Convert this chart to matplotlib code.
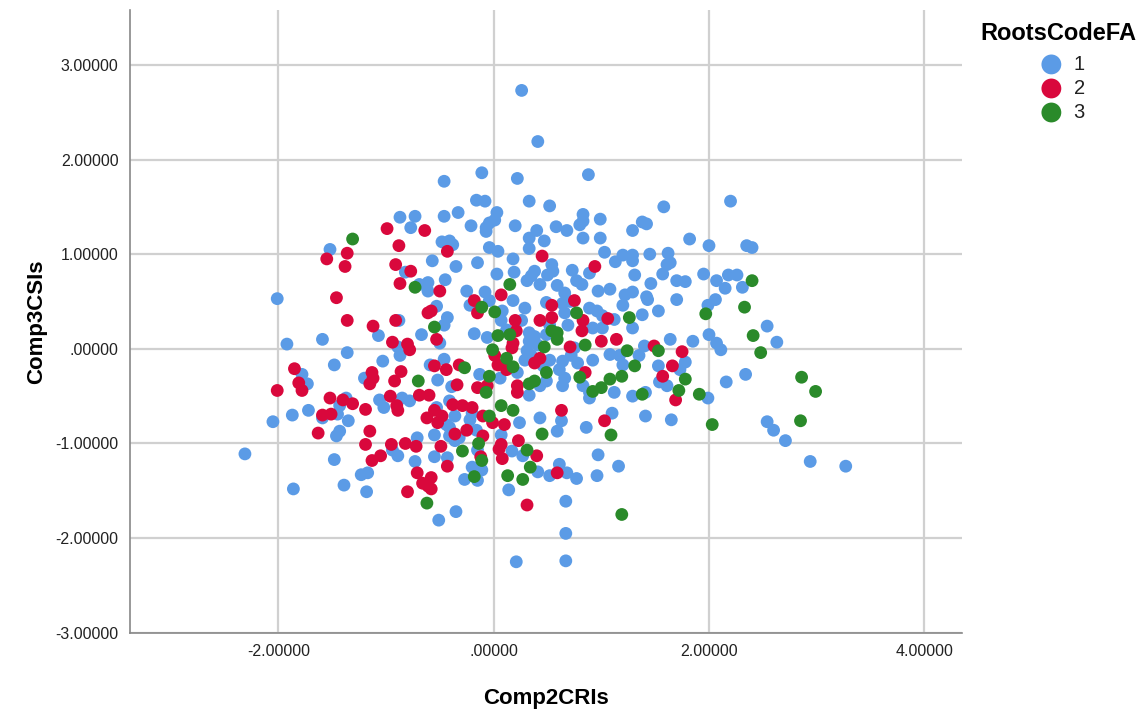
import numpy as np
import matplotlib
matplotlib.use("Agg")
from matplotlib import pyplot as plt
from matplotlib.ticker import FuncFormatter

plt.rcParams['font.family'] = ['Liberation Sans', 'DejaVu Sans']

# RootsCodeFA = 1
x1 = [1.43, 1.70, 1.99, 2.06, 1.53, 1.38, 1.29, 1.64, 1.85, 2.00, 2.07, 2.11, 1.40, 1.35, 1.53,
      1.78, 1.73, 1.54, 1.61, 1.41, 1.29, 1.99, 2.16, 2.34, 2.54, 2.63, 1.41, 1.65, 2.54, 2.60,
      2.71, 2.94, 3.27, 2.20, 1.58, 1.38, 1.42, 1.29, 1.82, 2.00, 2.35, 2.40, 1.45, 1.62, 1.29,
      1.29, 1.61, 1.64, 1.57, 1.31, 1.95, 1.70, 1.78, 1.46, 2.07, 2.18, 2.26, 2.15, 2.31, 1.29,
      1.42, -0.46, -0.11, 0.22, 0.88, -0.16, -0.08, 0.33, 0.52, -0.46, -0.33, 0.03, 0.01, -0.04,
      -0.07, -0.21, -0.07, 0.20, 0.83, 0.83, 0.80, 0.99, 0.40, 0.33, 0.47, 0.58, 0.68, 0.83,
      0.99, -0.48, -0.41, -0.38, -0.04, 0.04, 0.33, 1.03, -0.57, -0.35, -0.15, 0.18, 0.54, 0.73,
      1.13, 1.20, 0.03, 0.19, 0.38, 0.35, 0.31, 0.50, 0.55, -0.45, -0.25, -0.08, 0.43, 0.77,
      0.82, 0.59, 0.66, 0.97, 1.08, 1.22, 0.89, -0.87, -0.73, -0.77, -1.52, -2.01, -0.82, -0.69,
      -0.61, -0.61, -1.92, -1.59, -1.36, -1.48, -1.03, -1.07, -0.88, -0.67, -0.89, -0.87, -1.20,
      -1.78, -1.73, -2.05, -1.87, -1.72, -1.37, -1.43, -1.06, -1.02, -0.85, -0.78, -1.45, -1.35,
      -1.59, -2.31, -1.86, -1.48, -1.39, -1.18, -1.23, -1.17, -1.46, -1.43, -0.89, -0.94, -0.73,
      -0.71, -0.55, -0.41, -0.32, -0.36, -0.55, -0.43, -0.27, -0.15, -0.20, -0.11, -0.15, 0.07,
      0.17, 0.27, 0.41, 0.52, 0.61, 0.68, 0.77, 0.96, 0.97, 1.16, 0.14, 0.67, -0.51, -0.35,
      0.67, 0.21, 0.67, 0.86, -0.53, -0.43, -0.46, -0.22, -0.04, 0.18, 0.29, 0.08, -0.18, -0.06,
      0.07, 0.12, 0.26, 0.33, 0.38, 0.33, 0.41, 0.31, 0.35, 0.29, 0.49, 0.52, 0.66, 0.69, 0.49,
      0.64, 0.71, 0.89, 0.96, 1.01, 0.92, 1.01, 1.20, 1.12, 0.75, 0.72, 0.78, 0.64, 0.61, 0.66,
      0.52, 0.46, 0.92, 1.08, 1.17, -0.50, -0.46, -0.59, -0.52, -0.39, -0.13, 0.06, 0.22, 0.33,
      0.49, 0.43, 0.64, 0.83, 0.89, 0.89, 1.12, 1.20, -0.53, -0.41, -0.36, -0.44, -0.22, -0.20,
      -0.16, 0.24, 0.43, 0.63, 0.59, 1.10, -0.41, 0.26, 0.41]
y1 = [0.52, 0.52, 0.46, 0.52, 0.40, 0.36, 0.22, 0.10, 0.08, 0.15, 0.06, -0.01, 0.03, -0.07, -0.18,
      -0.14, -0.22, -0.35, -0.39, -0.46, -0.50, -0.52, -0.35, -0.27, 0.24, 0.07, -0.71, -0.75, -0.77, -0.86,
      -0.97, -1.19, -1.24, 1.56, 1.50, 1.34, 1.32, 1.25, 1.16, 1.09, 1.09, 1.07, 1.00, 1.01, 0.99,
      0.93, 0.89, 0.91, 0.79, 0.78, 0.79, 0.72, 0.71, 0.69, 0.72, 0.78, 0.78, 0.64, 0.65, 0.60,
      0.55, 1.77, 1.86, 1.80, 1.84, 1.57, 1.56, 1.56, 1.51, 1.40, 1.44, 1.44, 1.36, 1.33,
      1.28, 1.30, 1.24, 1.30, 1.42, 1.35, 1.31, 1.37, 1.25, 1.17, 1.14, 1.29, 1.25, 1.17,
      1.17, 1.13, 1.14, 1.10, 1.07, 1.03, 1.06, 1.02, 0.93, 0.87, 0.91, 0.95, 0.89, 0.83,
      0.92, 0.99, 0.79, 0.81, 0.82, 0.77, 0.72, 0.78, 0.82, 0.73, 0.61, 0.60, 0.68, 0.72,
      0.68, 0.67, 0.59, 0.61, 0.63, 0.57, 0.80, 1.39, 1.40, 1.28, 1.05, 0.53, 0.81, 0.68,
      0.70, 0.61, 0.05, 0.10, -0.04, -0.17, -0.13, 0.14, 0.30, 0.15, 0.02, -0.07, -0.31,
      -0.27, -0.37, -0.77, -0.70, -0.65, -0.52, -0.60, -0.54, -0.62, -0.52, -0.55, -0.69, -0.76,
      -0.73, -1.11, -1.48, -1.17, -1.44, -1.51, -1.33, -1.31, -0.92, -0.87, -1.13, -1.07, -1.19,
      -0.94, -0.91, -0.92, -0.94, -0.97, -1.14, -1.15, -1.38, -1.39, -1.25, -1.28, -1.07, -0.91,
      -1.08, -1.13, -1.30, -1.34, -1.22, -1.31, -1.37, -1.34, -1.12, -1.24, -1.49, -1.61, -1.81, -1.72,
      -1.95, -2.25, -2.24, -0.83, 0.45, 0.33, 0.25, 0.46, 0.51, 0.51, 0.43, 0.40, 0.16, 0.12,
      0.30, 0.20, 0.30, 0.17, 0.13, 0.08, 0.04, -0.02, -0.07, -0.12, 0.15, 0.25, 0.38, 0.25, 0.49,
      0.48, 0.50, 0.43, 0.40, 0.35, 0.22, 0.22, 0.46, 0.31, 0.01, -0.07, -0.15, -0.13, -0.22, -0.31,
      -0.12, -0.18, -0.12, -0.06, -0.07, 0.06, -0.11, -0.17, -0.33, -0.40, -0.27, -0.31, -0.25, -0.49,
      -0.34, -0.39, -0.39, -0.39, -0.46, -0.52, -0.46, -0.17, -0.62, -0.55, -0.71, -0.80, -0.75, -0.68,
      -0.86, -0.78, -0.73, -0.76, -0.87, -0.68, -0.83, 2.73, 2.19]

# RootsCodeFA = 2
x2 = [1.49, 1.75, 1.66, 1.57, 1.69, -0.43, 0.45, 0.94, -0.50, 0.07, 0.75, -0.18, -0.99, -0.64,
      -0.88, -1.36, -1.55, -1.38, -0.91, -0.77, -0.87, -1.46, -1.36, -1.12, -0.91, -0.94, -0.80,
      -0.78, -0.61, -1.85, -1.81, -1.78, -2.01, -1.13, -1.12, -1.15, -0.86, -0.92, -1.52, -1.40,
      -1.31, -1.19, -0.96, -0.90, -0.89, -1.59, -1.51, -0.69, -0.60, -0.62, -1.63, -1.15, -1.19,
      -1.13, -1.05, -0.95, -0.82, -0.72, -0.71, -0.66, -0.61, -0.80, -0.49, -0.43, -0.58, -0.58,
      0.07, 0.05, 0.08, -0.10, -0.36, 0.23, 0.40, 0.59, 0.31, -0.12, -0.58, -0.53, -0.15, 0.20,
      0.21, 0.18, 0.17, 0.43, 0.54, 0.54, 0.83, 0.82, 1.06, 1.00, 1.14, 0.71, 0.43, 0.38, 0.85,
      -0.32, -0.55, -0.44, -0.34, -0.15, -0.06, 0.22, 0.22, 0.01, 0.04, 0.12, -0.38, -0.29, -0.20,
      -0.55, -0.48, -0.52, -0.10, -0.01, 0.10, 0.63, 1.03, -0.25]
y2 = [0.03, -0.03, -0.18, -0.29, -0.54, 1.03, 0.98, 0.87, 0.61, 0.57, 0.51, 0.51, 1.27, 1.25,
      1.09, 1.01, 0.95, 0.87, 0.89, 0.82, 0.69, 0.54, 0.30, 0.24, 0.30, 0.07, 0.05,
      -0.01, 0.38, -0.21, -0.36, -0.44, -0.44, -0.25, -0.31, -0.37, -0.24, -0.34, -0.52, -0.54,
      -0.58, -0.64, -0.50, -0.60, -0.65, -0.70, -0.69, -0.49, -0.49, -0.73, -0.89, -0.87, -1.01,
      -1.18, -1.13, -1.01, -1.00, -1.03, -1.31, -1.42, -1.45, -1.51, -1.03, -1.24, -1.36, -1.48,
      -1.01, -1.06, -1.16, -0.92, -0.90, -0.97, -1.13, -1.31, -1.65, -1.14, 0.40, 0.10, 0.38, 0.30,
      0.19, 0.06, 0.01, 0.30, 0.33, 0.46, 0.30, 0.19, 0.32, 0.08, 0.10, 0.02, -0.10, -0.15, -0.25,
      -0.17, -0.18, -0.22, -0.38, -0.41, -0.39, -0.39, -0.46, -0.07, -0.17, -0.22, -0.59, -0.60, -0.62,
      -0.65, -0.71, -0.78, -0.71, -0.78, -0.80, -0.65, -0.76, -0.86]

# RootsCodeFA = 3
x3 = [2.33, 1.97, 2.41, 2.48, 2.86, 2.99, 2.85, 2.03, 1.53, 1.78, 1.72, 1.91, 1.38, 1.31, 1.26,
      2.40, -1.31, -0.73, 0.15, -0.70, -0.62, -0.14, -0.29, -0.11, -0.18, 0.13, 0.27, 0.31, 0.34,
      0.45, 1.09, 1.19, -0.11, 0.01, -0.55, 0.04, 0.15, -0.01, 0.12, 0.18, 0.54, 0.59, 0.59, 0.77,
      0.85, 0.47, 1.24, -0.27, -0.04, 0.49, 0.33, 0.38, 0.80, 1.08, 1.19, 1.00, 0.92, -0.07, 0.07,
      0.18, -0.04]
y3 = [0.44, 0.37, 0.14, -0.04, -0.30, -0.45, -0.76, -0.80, -0.02, -0.32, -0.44, -0.48, -0.48, -0.18, 0.33,
      0.72, 1.16, 0.65, 0.68, -0.34, -1.63, -1.00, -1.08, -1.18, -1.35, -1.34, -1.38, -1.07, -1.25,
      -0.90, -0.91, -1.75, 0.44, 0.39, 0.23, 0.14, 0.15, -0.01, -0.10, -0.19, 0.19, 0.17, 0.10, 0.38,
      0.04, 0.02, -0.02, -0.20, -0.29, -0.25, -0.37, -0.34, -0.30, -0.32, -0.29, -0.41, -0.45, -0.46, -0.60,
      -0.65, -0.71]

groups = ["1", "2", "3"]
colors = ["#5b9be6", "#d9083c", "#2a8a2a"]

fig = plt.figure(figsize=(11.48, 7.11), dpi=100)
ax = fig.add_axes([0.113, 0.110, 0.725, 0.876])

for (gx, gy), lab, col in zip([(x1, y1), (x2, y2), (x3, y3)], groups, colors):
    ax.scatter(gx, gy, s=85, color=col, edgecolors="none", label=lab, zorder=3)

ax.set_xlim(-3.38, 4.35)
ax.set_ylim(-3.0, 3.58)
ax.set_xticks([-2, 0, 2, 4])
ax.set_yticks([-3, -2, -1, 0, 1, 2, 3])


def fmt(v, pos):
    s = "%.5f" % v
    return s.replace("0.", ".", 1) if s.startswith("0.") else s


ax.xaxis.set_major_formatter(FuncFormatter(fmt))
ax.yaxis.set_major_formatter(FuncFormatter(fmt))
ax.grid(True, color="#d0d0d0", linewidth=1.6, zorder=0)
ax.set_axisbelow(True)
ax.tick_params(length=0, labelsize=11.5, colors="#222222", pad=8)
for side in ["top", "right"]:
    ax.spines[side].set_visible(False)
for side in ["left", "bottom"]:
    ax.spines[side].set_color("#888888")
    ax.spines[side].set_linewidth(1.2)

ax.set_xlabel("Comp2CRIs", fontsize=16, fontweight="bold", labelpad=21)
ax.set_ylabel("Comp3CSIs", fontsize=16, fontweight="bold", labelpad=6)

leg = fig.legend(title="RootsCodeFA", loc="upper center", bbox_to_anchor=(1058 / 1148, 1 - 22 / 711),
                 frameon=False, fontsize=14.5, title_fontsize=17, handletextpad=0.1,
                 labelspacing=0.25, markerscale=1.55, borderaxespad=0.0, borderpad=0.0)
leg.get_title().set_fontweight("bold")
leg._legend_box.sep = 7
for t in leg.get_texts():
    t.set_color("#222222")

fig.savefig("out.png", dpi=100)
